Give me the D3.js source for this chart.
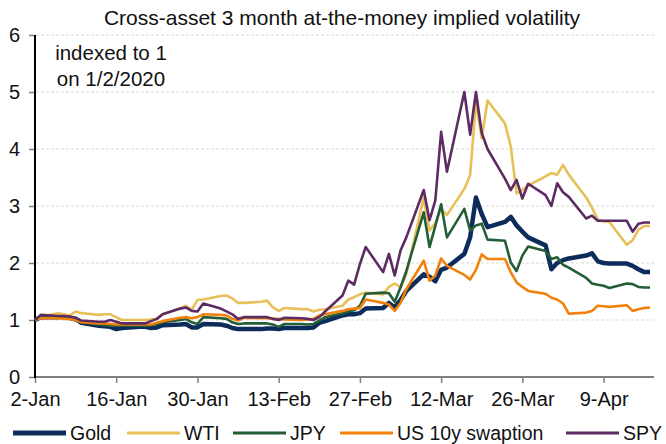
<!DOCTYPE html>
<html>
<head>
<meta charset="utf-8">
<script src="https://cdn.jsdelivr.net/npm/d3@7"></script>
<style>
  body { margin: 0; background: #fff; }
  svg { font-family: "Liberation Sans", Arial, sans-serif; }
</style>
</head>
<body>
<div id="chart"></div>
<script>
"use strict";

// Trading days (weekdays) 2 Jan - 17 Apr 2020
const startDay = "2020-01-02";
const endDay = "2020-04-17";
const tickDays = ["2020-01-02", "2020-01-16", "2020-01-30", "2020-02-13",
    "2020-02-27", "2020-03-12", "2020-03-26", "2020-04-09"];
const yTicks = [0, 1, 2, 3, 4, 5, 6];

const seriesNames = ["Gold", "WTI", "JPY", "US 10y swaption", "SPY"];
const seriesColors = ["#0c2d5c", "#e8bf58", "#245e36", "#f2810c", "#5c2c62"];
const seriesWidths = [4.5, 2.6, 2.6, 2.6, 2.6];

const gold = [1.00, 1.05, 1.05, 1.07, 1.04, 1.02, 0.95, 0.90, 0.89, 0.88,
    0.84, 0.86, 0.88, 0.88, 0.86, 0.87, 0.91, 0.92, 0.93, 0.87,
    0.87, 0.93, 0.92, 0.90, 0.86, 0.84, 0.84, 0.84, 0.85, 0.85,
    0.84, 0.86, 0.86, 0.86, 0.87, 0.95, 0.98, 1.08, 1.10, 1.10,
    1.12, 1.20, 1.21, 1.30, 1.22, 1.35, 1.51, 1.80, 1.76, 1.68,
    1.88, 1.92, 2.16, 2.45, 3.15, 2.86, 2.63, 2.72, 2.81, 2.66,
    2.55, 2.45, 2.31, 1.89, 2.00, 2.05, 2.08, 2.13, 2.17, 2.03,
    2.00, 1.99, 1.99, 1.95, 1.89, 1.84, 1.84];

const wti = [1.00, 1.06, 1.12, 1.10, 1.08, 1.15, 1.12, 1.09, 1.10, 1.10,
    1.05, 1.00, 1.00, 1.00, 1.01, 1.02, 1.10, 1.20, 1.25, 1.18,
    1.35, 1.36, 1.42, 1.43, 1.38, 1.30, 1.30, 1.32, 1.34, 1.22,
    1.16, 1.21, 1.19, 1.19, 1.15, 1.18, 1.19, 1.25, 1.36, 1.40,
    1.45, 1.48, 1.45, 1.58, 1.64, 1.57, 1.80, 3.15, 2.57, 2.70,
    2.95, 2.84, 3.30, 3.54, 4.82, 4.19, 4.85, 4.45, 4.05, 3.22,
    3.28, 3.36, 3.52, 3.58, 3.55, 3.72, 3.55, 3.15, 2.97, 2.76,
    2.73, 2.72, 2.32, 2.40, 2.58, 2.65, 2.65];

const jpy = [1.00, 1.05, 1.04, 1.03, 1.02, 0.99, 0.96, 0.92, 0.91, 0.90,
    0.90, 0.90, 0.90, 0.90, 0.91, 0.93, 0.96, 1.00, 1.02, 0.96,
    0.93, 1.05, 1.03, 1.02, 0.96, 0.93, 0.94, 0.94, 0.94, 0.92,
    0.88, 0.93, 0.93, 0.92, 0.93, 0.99, 1.05, 1.12, 1.15, 1.17,
    1.25, 1.46, 1.48, 1.47, 1.32, 1.57, 1.86, 2.89, 2.28, 2.65,
    3.03, 2.45, 2.95, 2.57, 2.66, 2.69, 2.41, 2.39, 2.01, 1.86,
    2.13, 2.29, 2.21, 2.07, 2.10, 1.97, 1.92, 1.74, 1.64, 1.62,
    1.60, 1.56, 1.64, 1.63, 1.58, 1.57, 1.57];

const swaption = [1.00, 1.03, 1.03, 1.02, 1.02, 1.00, 0.96, 0.94, 0.94, 0.93,
    0.92, 0.92, 0.92, 0.92, 0.92, 0.95, 0.98, 1.04, 1.05, 1.03,
    1.05, 1.10, 1.09, 1.08, 1.02, 0.99, 1.04, 1.03, 1.03, 1.02,
    1.02, 1.01, 1.00, 1.01, 1.02, 1.08, 1.10, 1.16, 1.19, 1.20,
    1.21, 1.36, 1.30, 1.27, 1.16, 1.30, 1.54, 2.04, 1.69, 1.78,
    2.08, 1.95, 1.79, 1.71, 1.88, 2.15, 2.07, 2.07, 1.84, 1.66,
    1.58, 1.51, 1.46, 1.39, 1.36, 1.29, 1.11, 1.13, 1.16, 1.25,
    1.24, 1.23, 1.26, 1.16, 1.19, 1.21, 1.22];

const spy = [1.00, 1.09, 1.07, 1.07, 1.06, 1.04, 0.99, 0.97, 0.97, 1.00,
    0.97, 0.94, 0.94, 0.94, 0.98, 1.02, 1.10, 1.20, 1.22, 1.16,
    1.15, 1.29, 1.20, 1.15, 1.10, 1.02, 1.05, 1.05, 1.05, 1.02,
    1.00, 1.04, 1.03, 1.02, 1.00, 1.05, 1.15, 1.43, 1.69, 1.62,
    1.98, 2.28, 1.84, 2.16, 1.78, 2.22, 2.45, 3.28, 2.75, 3.10,
    4.30, 3.60, 5.00, 4.25, 5.00, 4.28, 4.00, 3.48, 3.28, 3.46,
    3.13, 3.39, 3.19, 3.00, 3.40, 3.24, 3.16, 2.78, 2.83, 2.74,
    2.74, 2.74, 2.74, 2.55, 2.69, 2.71, 2.71];

const seriesValues = [gold, wti, jpy, swaption, spy];

const W = 666, H = 444;
const parse = d3.utcParse("%Y-%m-%d");
const days = d3.utcDays(parse(startDay), d3.utcDay.offset(parse(endDay), 1))
    .filter(d => d.getUTCDay() !== 0 && d.getUTCDay() !== 6);

const x = d3.scaleUtc()
    .domain([parse(startDay), parse(endDay)])
    .range([35, 650]);
const y = d3.scaleLinear()
    .domain([0, 6])
    .range([377, 35]);

const svg = d3.select("#chart").append("svg")
    .attr("width", W)
    .attr("height", H);

// Title
svg.append("text")
    .attr("x", 342)
    .attr("y", 25)
    .attr("text-anchor", "middle")
    .attr("font-size", 21)
    .attr("fill", "#111")
    .text("Cross-asset 3 month at-the-money implied volatility");

// Gridlines
svg.append("g")
    .selectAll("line")
    .data(yTicks.filter(t => t > 0))
    .join("line")
    .attr("x1", 36)
    .attr("x2", 654)
    .attr("y1", d => y(d))
    .attr("y2", d => y(d))
    .attr("stroke", "#d9d9d9")
    .attr("stroke-width", 1)
    .attr("stroke-dasharray", "3,2");

// Y axis
const yAxis = svg.append("g")
    .attr("transform", "translate(35,0)")
    .call(d3.axisLeft(y)
        .tickValues(yTicks)
        .tickFormat(d3.format("d"))
        .tickSize(6)
        .tickSizeOuter(0)
        .tickPadding(9));
yAxis.select(".domain").remove();
yAxis.selectAll(".tick line").attr("stroke", "#7f7f7f").attr("stroke-width", 1.5);
yAxis.selectAll(".tick text")
    .attr("font-size", 20)
    .attr("fill", "#111")
    .attr("font-family", "Liberation Sans, Arial, sans-serif");

// X axis
const xAxis = svg.append("g")
    .attr("transform", "translate(0,377)")
    .call(d3.axisBottom(x)
        .tickValues(tickDays.map(parse))
        .tickFormat(d3.utcFormat("%-d-%b"))
        .tickSize(6)
        .tickSizeOuter(0)
        .tickPadding(9));
xAxis.select(".domain").remove();
xAxis.selectAll(".tick line").attr("stroke", "#7f7f7f").attr("stroke-width", 1.5);
xAxis.selectAll(".tick text")
    .attr("font-size", 20)
    .attr("fill", "#111")
    .attr("font-family", "Liberation Sans, Arial, sans-serif");

svg.append("line")
    .attr("x1", 35).attr("x2", 654)
    .attr("y1", 377).attr("y2", 377)
    .attr("stroke", "#7f7f7f")
    .attr("stroke-width", 2);
svg.append("line")
    .attr("x1", 35).attr("x2", 35)
    .attr("y1", 35).attr("y2", 378)
    .attr("stroke", "#000")
    .attr("stroke-width", 2);

// Series lines
const line = d3.line()
    .x((d, i) => x(days[i]))
    .y(d => y(d));

svg.append("g")
    .selectAll("path")
    .data(seriesValues)
    .join("path")
    .attr("d", d => line(d))
    .attr("fill", "none")
    .attr("stroke", (d, i) => seriesColors[i])
    .attr("stroke-width", (d, i) => seriesWidths[i])
    .attr("stroke-linejoin", "round");

// Annotation
const note = svg.append("text")
    .attr("text-anchor", "middle")
    .attr("font-size", 20.5)
    .attr("fill", "#111");
note.append("tspan").attr("x", 111).attr("y", 60).text("indexed to 1");
note.append("tspan").attr("x", 111).attr("y", 86).text("on 1/2/2020");

// Legend
const legendX = [13, 127, 233, 340, 566];
const legend = svg.append("g")
    .selectAll("g")
    .data(seriesNames)
    .join("g")
    .attr("transform", (d, i) => `translate(${legendX[i]},433)`);
legend.append("line")
    .attr("x1", 0).attr("x2", 53)
    .attr("stroke", (d, i) => seriesColors[i])
    .attr("stroke-width", (d, i) => i === 0 ? 5 : 2.8);
legend.append("text")
    .attr("x", 57)
    .attr("y", 7)
    .attr("font-size", 19.5)
    .attr("fill", "#111")
    .text(d => d);
</script>
</body>
</html>
